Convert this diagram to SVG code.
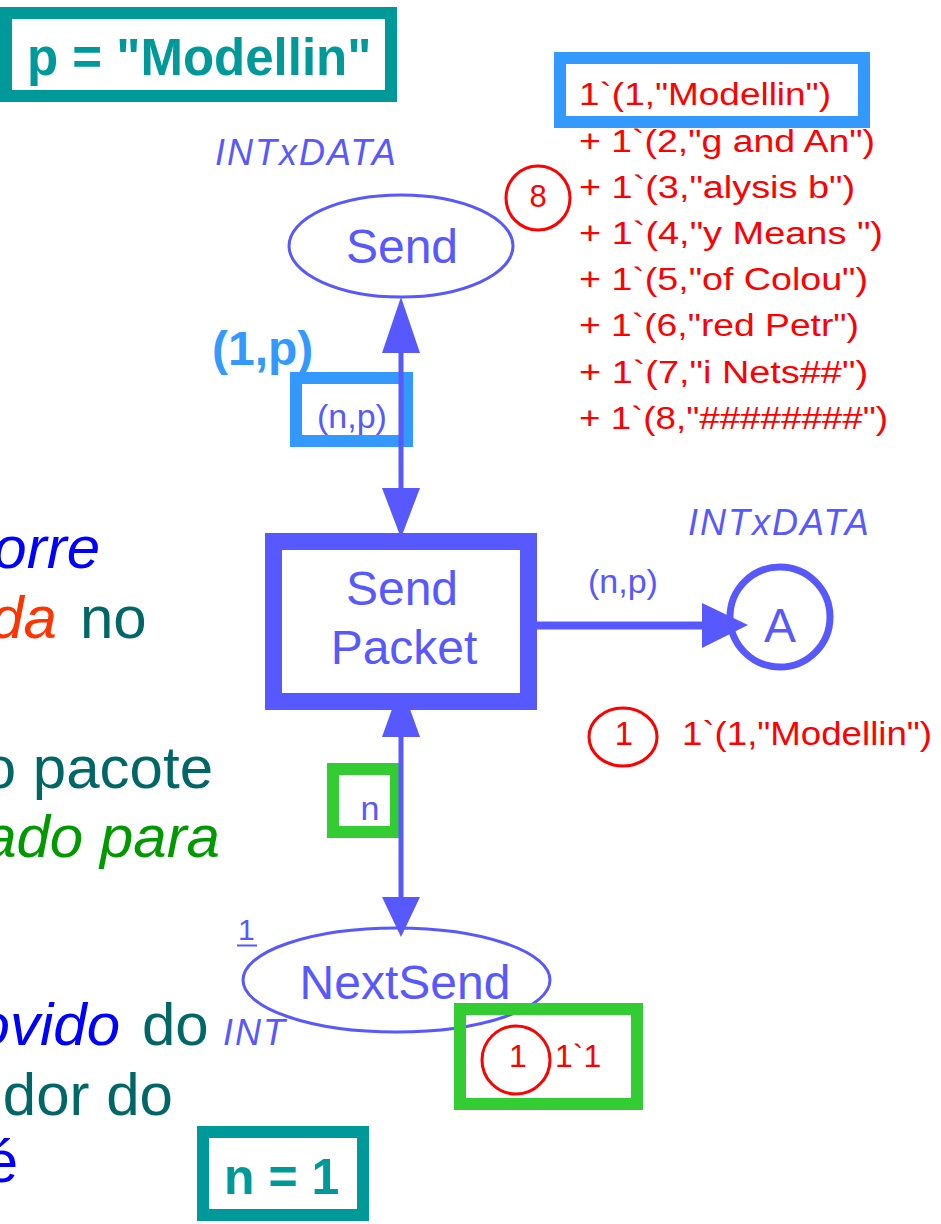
<svg xmlns="http://www.w3.org/2000/svg" width="941" height="1224" viewBox="0 0 941 1224">
<style>
text{font-family:"Liberation Sans",Arial,Helvetica,sans-serif}
.pl{fill:#fff;stroke:#5858ff}
.nt{fill:#5858ff}
.ty{fill:#5858ff;font-style:italic;font-size:36px;letter-spacing:2px}
.red{fill:#ff0000}
.tok{fill:none;stroke:#ff0000;stroke-width:3}
.hb{fill:none;stroke:#3399ff;stroke-width:12}
.hg{fill:none;stroke:#33cc33;stroke-width:12}
.ht{fill:#fff;stroke:#009999;stroke-width:12}
.bt{fill:#009999;font-weight:bold}
.arc{stroke:#5858ff;fill:none}
.ah{fill:#5858ff}
.para{font-size:60px}
</style>

<g id="side-text" class="para">
  <text x="100" y="568" text-anchor="end" fill="#0000ff" font-style="italic">orre</text>
  <text x="57" y="638" text-anchor="end" fill="#ff3300" font-style="italic">da</text>
  <text x="80" y="638" fill="#006666">no</text>
  <text x="213" y="788" text-anchor="end" fill="#006666">o pacote</text>
  <text x="220" y="857" text-anchor="end" fill="#009900" font-style="italic">ado para</text>
  <text x="120" y="1045" text-anchor="end" fill="#0000ff" font-style="italic">ovido</text>
  <text x="142" y="1045" fill="#006666">do</text>
  <text x="173" y="1115" text-anchor="end" fill="#006666">dor do</text>
  <text x="18" y="1182" text-anchor="end" fill="#0000ff">é</text>
</g>

<g id="binding-p">
  <rect class="ht" x="6" y="13" width="385" height="83"/>
  <text class="bt" x="27" y="75" font-size="51">p = "Modellin"</text>
</g>

<g id="place-Send">
  <ellipse class="pl" cx="401" cy="246" rx="112" ry="51" stroke-width="3"/>
  <text class="nt" x="402" y="263" font-size="48" text-anchor="middle">Send</text>
  <text class="ty" x="215" y="165">INTxDATA</text>
</g>

<g id="marking-Send">
  <circle class="tok" cx="538" cy="198" r="32"/>
  <text class="red" x="538" y="207" font-size="31" text-anchor="middle">8</text>
  <g class="red" font-size="31">
    <text x="579" y="105" textLength="252" lengthAdjust="spacingAndGlyphs">1`(1,"Modellin")</text>
    <text x="579" y="152" textLength="296" lengthAdjust="spacingAndGlyphs">+ 1`(2,"g and An")</text>
    <text x="579" y="198" textLength="276" lengthAdjust="spacingAndGlyphs">+ 1`(3,"alysis b")</text>
    <text x="579" y="244" textLength="304" lengthAdjust="spacingAndGlyphs">+ 1`(4,"y Means ")</text>
    <text x="579" y="290" textLength="289" lengthAdjust="spacingAndGlyphs">+ 1`(5,"of Colou")</text>
    <text x="579" y="336" textLength="280" lengthAdjust="spacingAndGlyphs">+ 1`(6,"red Petr")</text>
    <text x="579" y="383" textLength="289" lengthAdjust="spacingAndGlyphs">+ 1`(7,"i Nets##")</text>
    <text x="579" y="429" textLength="309" lengthAdjust="spacingAndGlyphs">+ 1`(8,"########")</text>
  </g>
  <rect class="hb" x="560" y="58" width="304" height="64"/>
</g>

<g id="place-A">
  <circle class="pl" cx="780" cy="617" r="50" stroke-width="7"/>
  <text class="nt" x="780" y="642" font-size="48" text-anchor="middle">A</text>
  <text class="ty" x="688" y="535">INTxDATA</text>
</g>

<g id="marking-A">
  <ellipse class="tok" cx="623" cy="737" rx="34" ry="29"/>
  <text class="red" x="624" y="745" font-size="33" text-anchor="middle">1</text>
  <text class="red" x="682" y="745" font-size="33" textLength="250" lengthAdjust="spacingAndGlyphs">1`(1,"Modellin")</text>
</g>

<g id="place-NextSend">
  <ellipse class="pl" cx="396.5" cy="980" rx="153.5" ry="52" stroke-width="3"/>
  <text class="nt" x="405" y="999" font-size="48" text-anchor="middle">NextSend</text>
  <text class="ty" x="223" y="1045">INT</text>
  <text class="nt" x="238" y="940" font-size="30">1</text>
  <line x1="237" y1="945.5" x2="257" y2="945.5" stroke="#5858ff" stroke-width="2"/>
</g>

<g id="marking-NextSend">
  <rect class="hg" x="460" y="1009" width="177" height="95"/>
  <ellipse class="tok" cx="516" cy="1060" rx="34" ry="34"/>
  <text class="red" x="518" y="1067" font-size="32" text-anchor="middle">1</text>
  <text class="red" x="555" y="1067" font-size="32">1`1</text>
</g>

<g id="binding-n">
  <rect class="ht" x="203" y="1132" width="160" height="83"/>
  <text class="bt" x="224" y="1194" font-size="50">n = 1</text>
</g>

<g id="inscription-np">
  <rect class="hb" x="296" y="378" width="111" height="63"/>
  <text class="nt" x="317" y="428" font-size="34">(n,p)</text>
  <text x="212" y="365" font-size="48" font-weight="bold" fill="#3399ff">(1,p)</text>
</g>

<g id="inscription-n">
  <rect class="hg" x="333" y="769" width="63" height="63"/>
  <text class="nt" x="370" y="820" font-size="34" text-anchor="middle">n</text>
</g>

<g id="connectors">
  <line class="arc" x1="401" y1="350" x2="401" y2="490" stroke-width="5"/>
  <polygon class="ah" points="401,297 382,353 420,353"/>
  <polygon class="ah" points="401,538 382,488 420,488"/>
  <line class="arc" x1="401" y1="735" x2="401" y2="899" stroke-width="5"/>
  <polygon class="ah" points="401,684 382,737 420,737"/>
  <polygon class="ah" points="401,937 382,897 420,897"/>
  <line class="arc" x1="537" y1="625.5" x2="705" y2="625.5" stroke-width="8"/>
  <polygon class="ah" points="748,625 702,603 702,648"/>
  <text class="nt" x="588" y="593" font-size="34">(n,p)</text>
</g>

<g id="transition-SendPacket">
  <rect x="273.5" y="541.5" width="255" height="160" fill="#fff" stroke="#5858ff" stroke-width="17"/>
  <text class="nt" x="402" y="605" font-size="48" text-anchor="middle">Send</text>
  <text class="nt" x="404" y="664" font-size="48" text-anchor="middle">Packet</text>
</g>
</svg>
